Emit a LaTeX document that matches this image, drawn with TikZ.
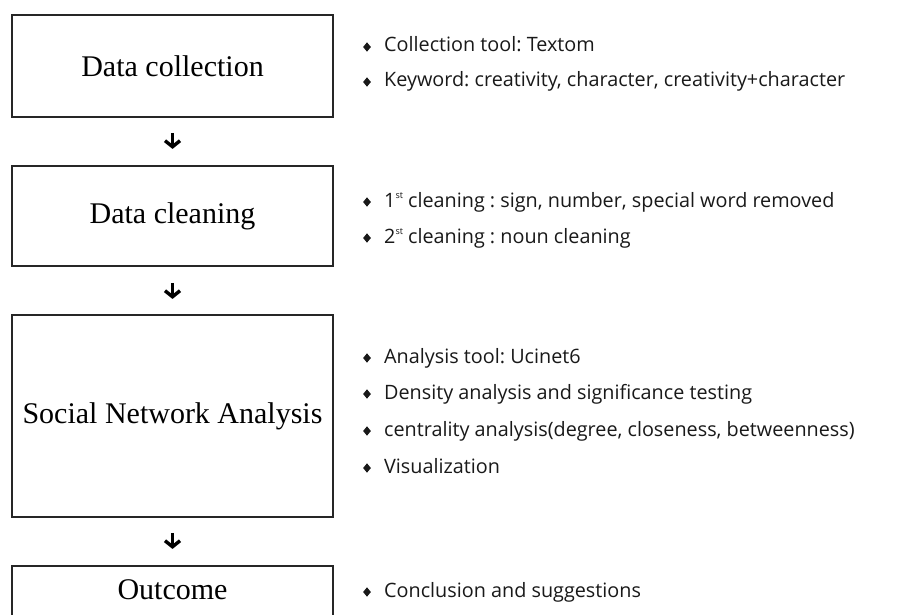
\documentclass[tikz,border=0pt]{standalone}
\usepackage{fontspec}
\setmainfont{Liberation Serif}
\newfontfamily\itemfont{Open Sans}
\usetikzlibrary{arrows.meta,shapes.geometric}
\frenchspacing
\newcommand{\supst}{\raisebox{0.45em}{\fontsize{9}{9}\selectfont st}}
\begin{document}
\begin{tikzpicture}[x=1pt,y=-1pt,
  box/.style={draw=black!85, line width=1.8pt, minimum width=321pt, inner sep=0pt, font=\fontsize{30}{36}\selectfont},
  boxtext/.style={inner sep=0pt, font=\fontsize{30}{36}\selectfont},
  item/.style={anchor=west, inner sep=0pt, font=\itemfont\fontsize{19.8}{24}\selectfont\frenchspacing, text height=14pt, text depth=4pt, text=black!90},
  bul/.style={diamond, fill=black!90, inner sep=0pt, minimum width=8pt, minimum height=9.5pt},
  arr/.style={line width=3.4pt, -{Straight Barb[length=6pt,width=15pt,line width=3.4pt]}}
]
\useasboundingbox (0,0) rectangle (902,615);
\fill[white] (0,0) rectangle (902,615);

% boxes
\node[box, minimum height=102pt] (b1) at (172.5,66) {Data collection};
\node[box, minimum height=100pt] (b2) at (172.5,216) {Data cleaning};
\node[box, minimum height=202pt] (b3) at (172.5,416) {Social Network Analysis};
\node[box, minimum height=80pt] (b4) at (172.5,606) {};
\node[boxtext] (t4) at (172.5,590) {Outcome};

% arrows
\draw[arr] ([yshift=-15pt]b1.south) -- ([yshift=-31pt]b1.south);
\draw[arr] ([yshift=-16pt]b2.south) -- ([yshift=-32pt]b2.south);
\draw[arr] ([yshift=-15pt]b3.south) -- ([yshift=-31pt]b3.south);

% items
\node[item] (s1a) at (384,47) {Collection tool: Textom};
\node[item] (s1b) at (384,82) {Keyword: creativity, character, creativity+character};
\node[item] (s2a) at (384,202) {1\supst{} cleaning : sign, number, special word removed};
\node[item] (s2b) at (384,238) {2\supst{} cleaning : noun cleaning};
\node[item] (s3a) at (384,358) {Analysis tool: Ucinet6};
\node[item] (s3b) at (384,394) {Density analysis and significance testing};
\node[item] (s3c) at (384,431) {centrality analysis(degree, closeness, betweenness)};
\node[item] (s3d) at (384,468) {Visualization};
\node[item] (s4a) at (384,592) {Conclusion and suggestions};

% bullets
\foreach \n/\yy in {d1a/47,d1b/82,d2a/202,d2b/238,d3a/358,d3b/394,d3c/431,d3d/468,d4a/592}
  \node[bul] (\n) at (367,\yy) {};
\end{tikzpicture}
\end{document}
